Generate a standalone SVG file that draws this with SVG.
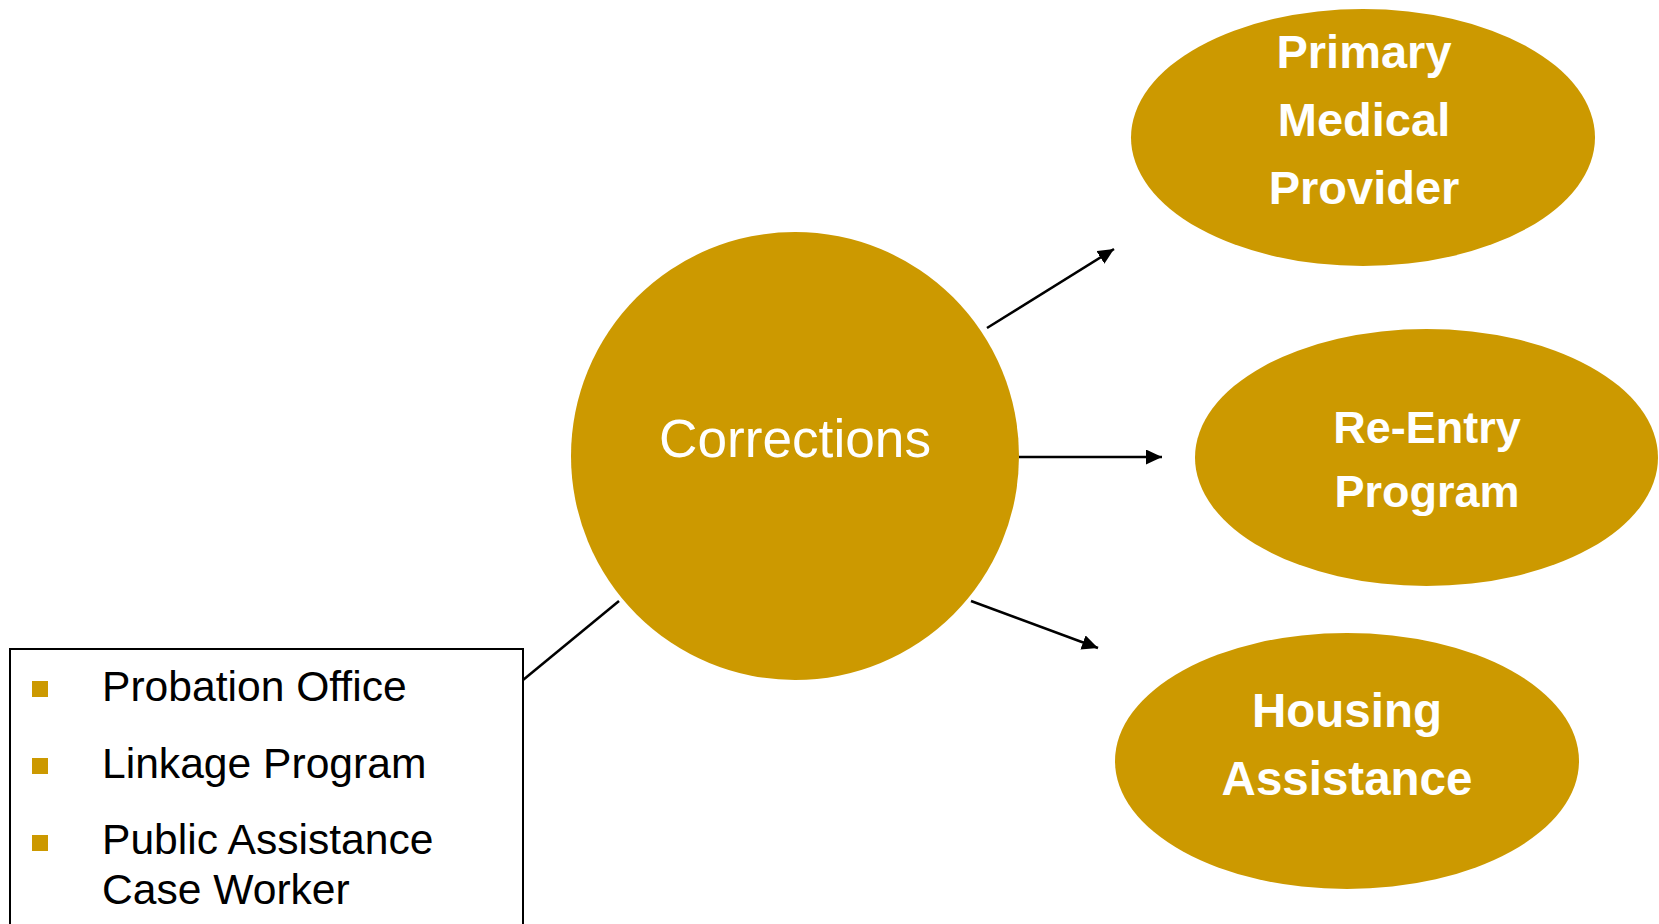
<svg xmlns="http://www.w3.org/2000/svg" width="1659" height="924" viewBox="0 0 1659 924">
<style>
.gold{fill:#CC9900}
.lbl{font-family:"Liberation Sans",Arial,sans-serif;font-weight:bold;fill:#FFFFFF;text-anchor:middle}
.item{font-family:"Liberation Sans",Arial,sans-serif;font-size:42.6px;fill:#000000}
.conn{stroke:#000000;stroke-width:2.5;fill:none}
</style>
<defs>
<marker id="arrow" markerUnits="userSpaceOnUse" markerWidth="16" markerHeight="15" refX="16" refY="7.5" orient="auto">
<path d="M0,0 L16,7.5 L0,15 z" fill="#000000"/>
</marker>
</defs>
<rect width="1659" height="924" fill="#FFFFFF"/>
<g id="connectors">
<line class="conn" x1="987" y1="328" x2="1114" y2="249" marker-end="url(#arrow)"/>
<line class="conn" x1="1019" y1="457" x2="1162" y2="457" marker-end="url(#arrow)"/>
<line class="conn" x1="971" y1="601" x2="1098" y2="648" marker-end="url(#arrow)"/>
<line class="conn" x1="523" y1="680" x2="619" y2="601" stroke-width="2"/>
</g>
<g id="corrections">
<circle class="gold" cx="795" cy="456" r="224"/>
<text x="659" y="457" font-family="Liberation Sans, Arial, sans-serif" font-size="53" fill="#FFFFFF" textLength="272" lengthAdjust="spacingAndGlyphs">Corrections</text>
</g>
<g id="primary-medical-provider">
<ellipse class="gold" cx="1363" cy="137.5" rx="232" ry="128.5"/>
<text class="lbl" x="1364" y="68" font-size="47">Primary</text>
<text class="lbl" x="1364" y="136" font-size="47">Medical</text>
<text class="lbl" x="1364" y="204" font-size="47">Provider</text>
</g>
<g id="re-entry-program">
<ellipse class="gold" cx="1426.5" cy="457.5" rx="231.5" ry="128.5"/>
<text class="lbl" x="1427" y="443" font-size="45">Re-Entry</text>
<text class="lbl" x="1427" y="507" font-size="45">Program</text>
</g>
<g id="housing-assistance">
<ellipse class="gold" cx="1347" cy="761" rx="232" ry="128"/>
<text class="lbl" x="1347" y="727" font-size="47.5">Housing</text>
<text class="lbl" x="1347" y="795" font-size="47.5">Assistance</text>
</g>
<g id="list-box">
<rect x="10" y="649" width="513" height="290" fill="#FFFFFF" stroke="#000000" stroke-width="2"/>
<rect class="gold" x="32" y="681" width="16" height="16"/>
<rect class="gold" x="32" y="758" width="16" height="16"/>
<rect class="gold" x="32" y="835" width="16" height="16"/>
<text class="item" x="102" y="701">Probation Office</text>
<text class="item" x="102" y="778">Linkage Program</text>
<text class="item" x="102" y="854">Public Assistance</text>
<text class="item" x="102" y="904">Case Worker</text>
</g>
</svg>
